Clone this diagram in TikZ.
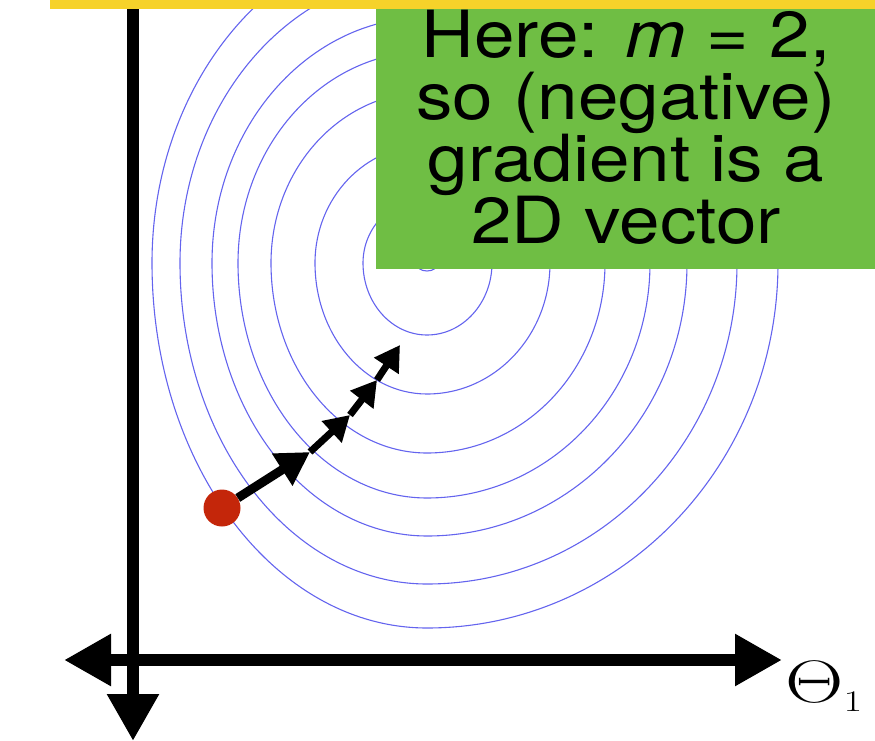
\RequirePackage{fix-cm}
\documentclass[tikz,border=0pt]{standalone}
\usepackage[no-math]{fontspec}
\usepackage{graphicx}
\usetikzlibrary{arrows.meta}
\newfontfamily\calloutfont[FakeStretch=1.12]{TeX Gyre Heros}
\definecolor{noteGreen}{RGB}{111,190,68}
\definecolor{barYellow}{RGB}{246,210,42}
\definecolor{dotRed}{RGB}{196,38,10}
\definecolor{contourBlue}{RGB}{100,100,238}

\begin{document}
\begin{tikzpicture}[x=1pt, y=-1pt,
  axis line/.style={line width=12pt, {Triangle[length=47pt,width=49pt]}-{Triangle[length=47pt,width=49pt]}},
  axis ray/.style={line width=12pt, -{Triangle[length=47pt,width=49pt]}},
  first move/.style={line width=9pt, -{Triangle[length=33pt,width=36pt]}},
  later move/.style={line width=7pt, -{Triangle[length=25pt,width=28pt]}},
  start dot/.style={circle, fill=dotRed, minimum size=37pt, inner sep=0pt},
  note text/.style={font=\calloutfont\fontsize{65}{61.7}\selectfont, align=center, inner sep=0pt},
  axis name/.style={font=\fontsize{60}{60}\selectfont, inner sep=0pt}]
% Slide sketch in pixel units (y grows downwards)
\providecommand{\gdContourColor}{contourBlue}
\providecommand{\gdContourWidth}{1.1pt}
\useasboundingbox (0,0) rectangle (875,741);
% Contour lines of the cost, each closed from four quarter arcs
\begin{scope}
  \clip (0,0) rectangle (875,741);
  \begin{scope}[draw=\gdContourColor, line width=\gdContourWidth]
    \foreach \rl/\rr/\rb in {11/11/8, 64/65/72, 112/123/131, 156/178/190, 189/223/235, 215/260/273, 247/310/321, 275/351/365} {
      \draw ({427-\rl},263) arc[start angle=180, end angle=90, x radius=\rl, y radius=\rb]
        arc[start angle=90, end angle=0, x radius=\rr, y radius=\rb]
        arc[start angle=0, end angle=-90, x radius=\rr, y radius=0.9*\rb]
        arc[start angle=-90, end angle=-180, x radius=\rl, y radius=0.9*\rb];
    }
  \end{scope}
\end{scope}
% Callout box and top bar
\fill[noteGreen] (376,9) rectangle (875,269);
\node[note text, anchor=base] (note) at (626,243) {Here: \textit{m} = 2,\\so (negative)\\gradient is a\\2D vector};
% Axes
\coordinate (ytop) at (133,9);
\coordinate (ybottom) at (133,741);
\coordinate (xleft) at (64,660);
\coordinate (xright) at (782,660);
\draw[axis ray] (ytop) -- (ybottom);
\draw[axis line] (xleft) -- (xright);
\fill[barYellow] (50,0) rectangle (875,9.5);
\node[axis name, anchor=base west] (thetaone) at (785,702) {\scalebox{1.35}[1]{$\Theta_{\scriptscriptstyle 1}$}};
% Gradient steps
\node[start dot] (start) at (222,508) {};
\coordinate (s1) at (310,452);
\coordinate (s2) at (350,415);
\coordinate (s3) at (377,380);
\coordinate (s4) at (400,345);
\draw[first move] (start) -- (s1);
\draw[later move] (s1) -- (s2);
\draw[later move] (s2) -- (s3);
\draw[later move] (s3) -- (s4);
\end{tikzpicture}
\end{document}
